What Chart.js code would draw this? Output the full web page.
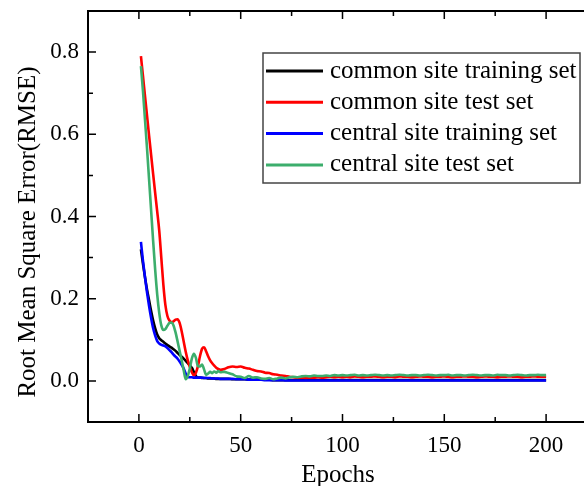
<!DOCTYPE html>
<html>
<head>
<meta charset="utf-8">
<script src="https://cdn.jsdelivr.net/npm/chart.js@4.4.1/dist/chart.umd.min.js"></script>
<style>
  html, body { margin: 0; padding: 0; overflow: hidden; background: #fff; }
  #wrap { width: 600px; height: 486px; }
</style>
</head>
<body>
<div id="wrap"><canvas id="rmseChart"></canvas></div>
<script>
// epochs 1-40 every epoch, then every second epoch up to 200
const epochs = [
  1, 2, 3, 4, 5, 6, 7, 8, 9, 10,
  11, 12, 13, 14, 15, 16, 17, 18, 19, 20,
  21, 22, 23, 24, 25, 26, 27, 28, 29, 30,
  31, 32, 33, 34, 35, 36, 37, 38, 39, 40,
  42, 44, 46, 48, 50, 52, 54, 56, 58, 60,
  62, 64, 66, 68, 70, 72, 74, 76, 78, 80,
  82, 84, 86, 88, 90, 92, 94, 96, 98, 100,
  102, 104, 106, 108, 110, 112, 114, 116, 118, 120,
  122, 124, 126, 128, 130, 132, 134, 136, 138, 140,
  142, 144, 146, 148, 150, 152, 154, 156, 158, 160,
  162, 164, 166, 168, 170, 172, 174, 176, 178, 180,
  182, 184, 186, 188, 190, 192, 194, 196, 198, 200
];

const commonTrain = [
  0.320, 0.285, 0.252, 0.222, 0.196, 0.170, 0.147, 0.128, 0.113, 0.104,
  0.099, 0.095, 0.091, 0.087, 0.084, 0.081, 0.077, 0.073, 0.068, 0.063,
  0.059, 0.054, 0.049, 0.043, 0.038, 0.032, 0.022, 0.012, 0.008, 0.008,
  0.007, 0.007, 0.007, 0.006, 0.006, 0.006, 0.006, 0.005, 0.005, 0.005,
  0.005, 0.005, 0.004, 0.004, 0.004, 0.004, 0.003, 0.003, 0.003, 0.003,
  0.003, 0.003, 0.002, 0.002, 0.002, 0.002, 0.002, 0.002, 0.002, 0.002,
  0.002, 0.002, 0.002, 0.002, 0.002, 0.002, 0.002, 0.002, 0.002, 0.002,
  0.002, 0.002, 0.002, 0.002, 0.002, 0.002, 0.002, 0.002, 0.002, 0.002,
  0.002, 0.002, 0.002, 0.002, 0.002, 0.002, 0.002, 0.002, 0.002, 0.002,
  0.002, 0.002, 0.002, 0.002, 0.002, 0.002, 0.002, 0.002, 0.002, 0.002,
  0.002, 0.002, 0.002, 0.002, 0.002, 0.002, 0.002, 0.002, 0.002, 0.002,
  0.002, 0.002, 0.002, 0.002, 0.002, 0.002, 0.002, 0.002, 0.002, 0.002
];

const commonTest = [
  0.790, 0.742, 0.693, 0.645, 0.597, 0.550, 0.503, 0.457, 0.412, 0.365,
  0.300, 0.235, 0.185, 0.158, 0.147, 0.143, 0.145, 0.149, 0.150, 0.141,
  0.121, 0.096, 0.071, 0.050, 0.034, 0.021, 0.013, 0.020, 0.036, 0.060,
  0.078, 0.082, 0.072, 0.060, 0.050, 0.043, 0.037, 0.032, 0.029, 0.027,
  0.029, 0.033, 0.035, 0.034, 0.035, 0.032, 0.030, 0.027, 0.024, 0.023,
  0.020, 0.019, 0.016, 0.015, 0.013, 0.012, 0.010, 0.009, 0.008, 0.008,
  0.007, 0.008, 0.008, 0.009, 0.008, 0.009, 0.010, 0.009, 0.010, 0.009,
  0.010, 0.009, 0.011, 0.010, 0.009, 0.010, 0.010, 0.011, 0.010, 0.009,
  0.010, 0.010, 0.009, 0.011, 0.010, 0.010, 0.009, 0.010, 0.011, 0.010,
  0.010, 0.009, 0.010, 0.010, 0.011, 0.010, 0.009, 0.010, 0.010, 0.011,
  0.010, 0.010, 0.009, 0.010, 0.011, 0.010, 0.010, 0.009, 0.010, 0.010,
  0.011, 0.010, 0.010, 0.009, 0.010, 0.010, 0.011, 0.010, 0.010, 0.010
];

const centralTrain = [
  0.338, 0.292, 0.252, 0.215, 0.182, 0.153, 0.128, 0.110, 0.097, 0.091,
  0.088, 0.086, 0.084, 0.080, 0.075, 0.070, 0.064, 0.059, 0.054, 0.047,
  0.039, 0.030, 0.018, 0.010, 0.009, 0.009, 0.008, 0.008, 0.008, 0.008,
  0.008, 0.007, 0.007, 0.007, 0.007, 0.006, 0.006, 0.006, 0.006, 0.005,
  0.005, 0.005, 0.005, 0.004, 0.004, 0.004, 0.003, 0.003, 0.003, 0.003,
  0.002, 0.002, 0.002, 0.002, 0.002, 0.001, 0.001, 0.001, 0.001, 0.001,
  0.001, 0.001, 0.001, 0.001, 0.001, 0.001, 0.001, 0.001, 0.001, 0.001,
  0.001, 0.001, 0.001, 0.001, 0.001, 0.001, 0.001, 0.001, 0.001, 0.001,
  0.001, 0.001, 0.001, 0.001, 0.001, 0.001, 0.001, 0.001, 0.001, 0.001,
  0.001, 0.001, 0.001, 0.001, 0.001, 0.001, 0.001, 0.001, 0.001, 0.001,
  0.001, 0.001, 0.001, 0.001, 0.001, 0.001, 0.001, 0.001, 0.001, 0.001,
  0.001, 0.001, 0.001, 0.001, 0.001, 0.001, 0.001, 0.001, 0.001, 0.001
];

const centralTest = [
  0.766, 0.705, 0.635, 0.565, 0.490, 0.415, 0.340, 0.270, 0.210, 0.165,
  0.135, 0.124, 0.126, 0.134, 0.141, 0.142, 0.135, 0.118, 0.096, 0.073,
  0.050, 0.026, 0.004, 0.012, 0.030, 0.054, 0.066, 0.056, 0.036, 0.035,
  0.040, 0.028, 0.015, 0.018, 0.022, 0.019, 0.023, 0.020, 0.024, 0.021,
  0.022, 0.019, 0.016, 0.011, 0.010, 0.007, 0.012, 0.008, 0.009, 0.006,
  0.005, 0.007, 0.004, 0.006, 0.008, 0.006, 0.009, 0.010, 0.009, 0.011,
  0.012, 0.011, 0.013, 0.012, 0.012, 0.013, 0.012, 0.014, 0.013, 0.014,
  0.013, 0.014, 0.015, 0.013, 0.014, 0.013, 0.014, 0.015, 0.014, 0.013,
  0.014, 0.013, 0.014, 0.015, 0.014, 0.013, 0.014, 0.014, 0.013, 0.014,
  0.015, 0.014, 0.013, 0.014, 0.014, 0.015, 0.013, 0.014, 0.014, 0.013,
  0.014, 0.015, 0.014, 0.013, 0.014, 0.014, 0.013, 0.015, 0.014, 0.014,
  0.013, 0.014, 0.015, 0.014, 0.013, 0.014, 0.014, 0.015, 0.014, 0.014
];

const seriesLabels = [
  "common site training set",
  "common site test set",
  "central site training set",
  "central site test set"
];
const seriesColors = ["#000000", "#ff0000", "#0000ff", "#3cae6c"];

const xMajor = [0, 50, 100, 150, 200];
const xMinor = [25, 75, 125, 175];
const yMajor = [0, 0.2, 0.4, 0.6, 0.8];
const yMinor = [0.1, 0.3, 0.5, 0.7];

const FONT = "'Liberation Serif', 'Times New Roman', serif";
Chart.defaults.font.family = FONT;
Chart.defaults.color = "#000";

// box around the plot with inward ticks on every side, plus axis titles
const frameAndTicks = {
  id: "frameAndTicks",
  afterDatasetsDraw(chart) {
    const { ctx, chartArea: a, scales: { x, y } } = chart;
    ctx.save();
    ctx.strokeStyle = "#000";
    ctx.lineWidth = 2;
    ctx.strokeRect(a.left, a.top, a.right - a.left, a.bottom - a.top);

    ctx.lineWidth = 1.5;
    ctx.beginPath();
    const xt = (v, len) => {
      const px = x.getPixelForValue(v);
      ctx.moveTo(px, a.bottom); ctx.lineTo(px, a.bottom - len);
      ctx.moveTo(px, a.top); ctx.lineTo(px, a.top + len);
    };
    const yt = (v, len) => {
      const py = y.getPixelForValue(v);
      ctx.moveTo(a.left, py); ctx.lineTo(a.left + len, py);
      ctx.moveTo(a.right, py); ctx.lineTo(a.right - len, py);
    };
    xMajor.forEach(v => xt(v, 8));
    xMinor.forEach(v => xt(v, 5));
    yMajor.forEach(v => yt(v, 8));
    yMinor.forEach(v => yt(v, 5));
    ctx.stroke();

    ctx.fillStyle = "#000";
    ctx.font = "25px " + FONT;
    ctx.textAlign = "center";
    ctx.textBaseline = "alphabetic";
    ctx.fillText("Epochs", 338, 482);

    ctx.translate(35, 232);
    ctx.rotate(-Math.PI / 2);
    ctx.fillText("Root Mean Square Error(RMSE)", 0, 0);
    ctx.restore();
  }
};

// legend box inside the plot
const boxLegend = {
  id: "boxLegend",
  afterDraw(chart) {
    const { ctx, chartArea: a } = chart;
    const left = a.left + 175, top = a.top + 42, w = 317, h = 130;
    ctx.save();
    ctx.fillStyle = "#fff";
    ctx.fillRect(left, top, w, h);
    ctx.strokeStyle = "#444";
    ctx.lineWidth = 1.5;
    ctx.strokeRect(left, top, w, h);
    ctx.font = "25px " + FONT;
    ctx.textBaseline = "middle";
    ctx.textAlign = "left";
    chart.data.datasets.forEach((ds, i) => {
      const cy = top + 18 + i * 31.3;
      ctx.strokeStyle = ds.borderColor;
      ctx.lineWidth = 3;
      ctx.beginPath();
      ctx.moveTo(left + 3, cy);
      ctx.lineTo(left + 60, cy);
      ctx.stroke();
      ctx.fillStyle = "#000";
      ctx.fillText(ds.label, left + 67, cy);
    });
    ctx.restore();
  }
};

const series = [commonTrain, commonTest, centralTrain, centralTest];

const ctx = document.getElementById("rmseChart").getContext("2d");
new Chart(ctx, {
  type: "line",
  data: {
    datasets: series.map((vals, i) => ({
      label: seriesLabels[i],
      data: epochs.map((e, j) => ({ x: e, y: vals[j] })),
      borderColor: seriesColors[i],
      backgroundColor: seriesColors[i],
      borderWidth: 2.6,
      pointRadius: 0,
      cubicInterpolationMode: "monotone",
      order: 4 - i
    }))
  },
  options: {
    responsive: true,
    maintainAspectRatio: false,
    animation: false,
    layout: { padding: { top: 11, left: 0, right: 3, bottom: 0 } },
    plugins: {
      legend: { display: false },
      tooltip: { enabled: false }
    },
    scales: {
      x: {
        type: "linear",
        min: -25,
        max: 225,
        grid: { display: false, drawTicks: false },
        border: { display: false },
        afterBuildTicks: s => { s.ticks = xMajor.map(v => ({ value: v })); },
        afterFit: s => { s.height = 64; s.paddingLeft = 0; s.paddingRight = 0; },
        ticks: {
          color: "#000",
          font: { family: "Liberation Serif", size: 23 },
          padding: 10,
          maxRotation: 0,
          callback: v => String(v)
        }
      },
      y: {
        type: "linear",
        min: -0.1,
        max: 0.9,
        grid: { display: false, drawTicks: false },
        border: { display: false },
        afterBuildTicks: s => { s.ticks = yMajor.map(v => ({ value: v })); },
        afterFit: s => { s.width = 88; s.paddingTop = 0; s.paddingBottom = 0; },
        ticks: {
          color: "#000",
          font: { family: "Liberation Serif", size: 23 },
          padding: 9,
          callback: v => Number(v).toFixed(1)
        }
      }
    }
  },
  plugins: [frameAndTicks, boxLegend]
});
</script>
</body>
</html>
